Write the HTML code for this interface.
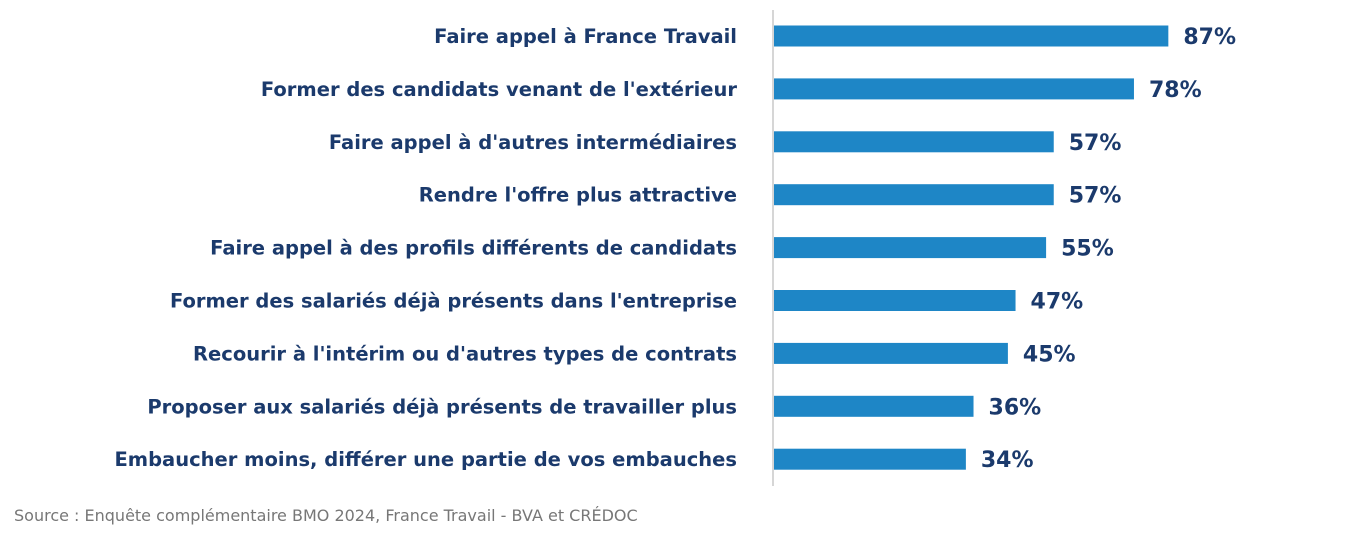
<!DOCTYPE html>
<html><head><meta charset="utf-8"><style>
body{margin:0;background:#fff;width:1353px;height:532px;overflow:hidden;font-family:"DejaVu Sans",sans-serif}
</style></head><body>
<svg width="1353" height="532">
<line x1="773" y1="10" x2="773" y2="486" stroke="#c8c8c8" stroke-width="1.5"/>
<g id="g"></g>
<text x="14" y="521" font-size="16" fill="#777" font-family="DejaVu Sans, sans-serif">Source : Enquête complémentaire BMO 2024, France Travail - BVA et CRÉDOC</text>
</svg>
<script>
const categories=["Faire appel à France Travail","Former des candidats venant de l'extérieur","Faire appel à d'autres intermédiaires","Rendre l'offre plus attractive","Faire appel à des profils différents de candidats","Former des salariés déjà présents dans l'entreprise","Recourir à l'intérim ou d'autres types de contrats","Proposer aux salariés déjà présents de travailler plus","Embaucher moins, différer une partie de vos embauches"];
const values=[87,78,57,57,55,47,45,36,34];
const valueLabels=["87%","78%","57%","57%","55%","47%","45%","36%","34%"];
const x0=773;
function xScale(v){return 836+3.82*v;}
function yScale(i){return 36+i*52.9;}
const g=document.getElementById('g');const ns="http://www.w3.org/2000/svg";
categories.forEach((c,i)=>{
const y=yScale(i);
const r=document.createElementNS(ns,'rect');


r.setAttribute('x',x0+1);r.setAttribute('y',y-10.5);r.setAttribute('width',xScale(values[i])-x0-1);r.setAttribute('height',21);r.setAttribute('fill','#1e86c6');g.appendChild(r);
const t=document.createElementNS(ns,'text');


t.setAttribute('x',737);t.setAttribute('y',y+7);t.setAttribute('text-anchor','end');t.setAttribute('font-size','19.5');t.setAttribute('font-weight','bold');t.setAttribute('fill','#1b3a6c');t.textContent=c;g.appendChild(t);
const v=document.createElementNS(ns,'text');


v.setAttribute('x',xScale(values[i])+15);v.setAttribute('y',y+8);v.setAttribute('font-size','22');v.setAttribute('font-weight','bold');v.setAttribute('fill','#1b3a6c');v.textContent=valueLabels[i];g.appendChild(v);
});
</script>
</body></html>
